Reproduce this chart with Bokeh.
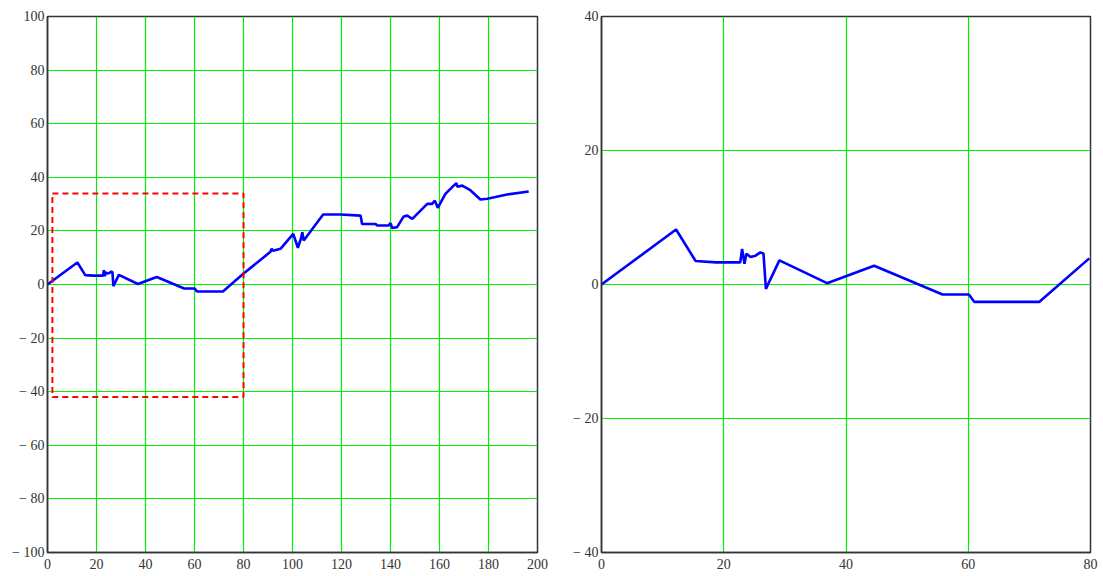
from bokeh.plotting import figure
from bokeh.layouts import row
from bokeh.models import FixedTicker, CustomJSTickFormatter, Range1d
from bokeh.embed import file_html
from bokeh.resources import INLINE

# measured trace
x_vals = [0, 12.2, 15.4, 18.7, 22.7, 23.0, 23.4, 23.7, 24.4, 25.2, 26.0, 26.5, 26.9,
          29.1, 36.9, 44.6, 55.8, 60.1, 61.0, 71.6, 79.8, 91.0, 91.5, 92.0, 95.1,
          100.3, 102.2, 103.4, 104.0, 104.6, 112.5, 119.6, 127.8, 128.4, 133.9, 134.6,
          139.3, 140.0, 140.7, 142.7, 145.4, 146.8, 148.9, 155.0, 157.0, 158.1, 159.3,
          162.4, 165.8, 166.9, 167.3, 169.3, 172.7, 176.7, 179.5, 187.6, 196.4]
y_vals = [0, 8.2, 3.5, 3.3, 3.3, 5.3, 3.1, 4.6, 4.1, 4.3, 4.8, 4.6, -0.65,
          3.6, 0.2, 2.8, -1.5, -1.5, -2.6, -2.6, 3.9, 12.2, 13.4, 12.6, 13.3,
          18.9, 13.7, 17.0, 19.5, 16.4, 26.1, 26.1, 25.7, 22.6, 22.6, 22.0,
          22.0, 22.9, 21.1, 21.4, 25.4, 25.7, 24.5, 30.1, 30.1, 31.3, 28.6,
          33.8, 36.9, 37.8, 36.5, 36.9, 35.1, 31.7, 32.0, 33.6, 34.7]

# zoom window marker on the overview
box_x = [2, 80, 80, 2, 2]
box_y = [34, 34, -42, -42, 34]

left_xticks = list(range(0, 201, 20))
left_yticks = list(range(-100, 101, 20))
right_xticks = [0, 20, 40, 60, 80]
right_yticks = [-40, -20, 0, 20, 40]

FONT = "Liberation Sans Narrow"
fmt = CustomJSTickFormatter(code="return tick < 0 ? '\u2212 ' + Math.abs(tick) : '' + tick;")


def style(p, xt, yt):
    p.xaxis.ticker = FixedTicker(ticks=xt)
    p.yaxis.ticker = FixedTicker(ticks=yt)
    p.yaxis.formatter = fmt
    p.xaxis.formatter = fmt
    for ax in (p.xaxis, p.yaxis):
        ax.major_tick_line_color = None
        ax.minor_tick_line_color = None
        ax.major_tick_out = 0
        ax.major_tick_in = 0
        ax.minor_tick_out = 0
        ax.minor_tick_in = 0
        ax.axis_line_color = "#333333"
        ax.axis_line_width = 1.5
        ax.major_label_text_font = FONT
        ax.major_label_text_font_size = "14px"
        ax.major_label_text_color = "#333333"
    p.xaxis.major_label_standoff = 6
    p.yaxis.major_label_standoff = 3
    p.grid.grid_line_color = "#00f000"
    p.grid.grid_line_width = 1.2
    p.outline_line_color = "#333333"
    p.outline_line_width = 1.5
    p.background_fill_color = "white"
    p.border_fill_color = "white"


p1 = figure(width=570, height=575, output_backend="svg", toolbar_location=None,
            x_range=Range1d(0, 200), y_range=Range1d(-100, 100),
            min_border_left=47, min_border_right=33, min_border_top=16, min_border_bottom=23)
style(p1, left_xticks, left_yticks)
p1.line(x_vals, y_vals, line_color="#0000ff", line_width=2.6)
p1.line(box_x, box_y, line_color="#ff0000", line_width=2, line_dash="6 4")

sub_x = [x for x in x_vals if x <= 80]
sub_y = [y for x, y in zip(x_vals, y_vals) if x <= 80]

p2 = figure(width=533, height=575, output_backend="svg", toolbar_location=None,
            x_range=Range1d(0, 80), y_range=Range1d(-40, 40),
            min_border_left=31, min_border_right=13, min_border_top=16, min_border_bottom=23)
style(p2, right_xticks, right_yticks)
p2.line(sub_x, sub_y, line_color="#0000ff", line_width=2.6)

layout = row(p1, p2)
open("out.html", "w").write(file_html(layout, INLINE))
